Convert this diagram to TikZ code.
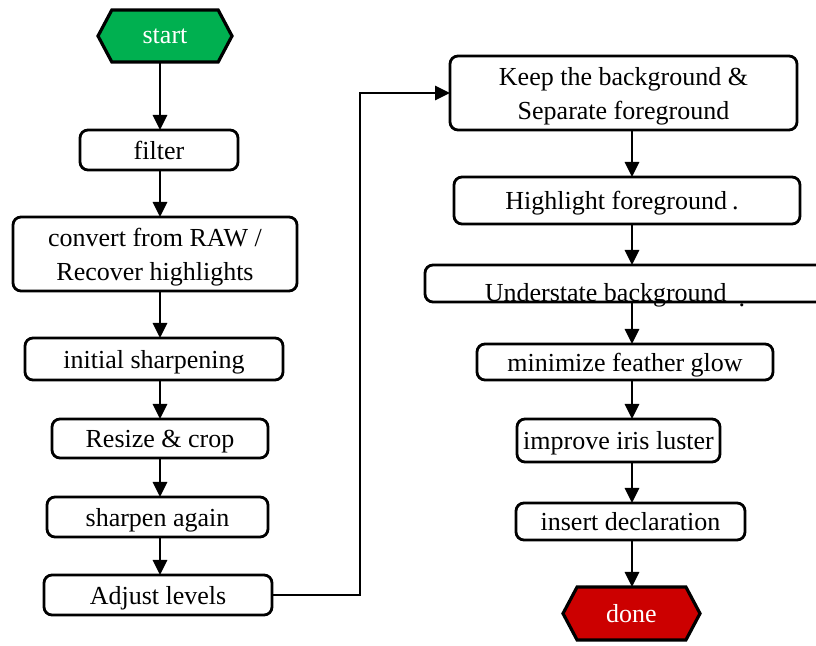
\documentclass[tikz,border=0pt]{standalone}
\usepackage{fontspec}
\setmainfont{Liberation Serif}
\usepackage{tikz}
\usetikzlibrary{shapes.symbols, arrows.meta, positioning}
\definecolor{startgreen}{RGB}{0,176,80}
\definecolor{donered}{RGB}{204,0,0}

\begin{document}
\begin{tikzpicture}[
  x=1pt, y=1pt,
  font=\fontsize{26}{34}\selectfont,
  box/.style = {
    rectangle, rounded corners=8pt,
    draw=black, line width=2.8pt, fill=white,
    align=center, inner sep=0pt, outer sep=0pt, text depth=0pt
  },
  term/.style = {
    signal, signal to=east and west, signal pointer angle=124,
    draw=black, line width=3.2pt, text=white, inner sep=0pt, outer sep=0pt,
    minimum width=134pt, minimum height=52pt
  },
  arr/.style = {-{Triangle[length=15pt,width=14pt]}, line width=2.7pt, black}
]
\useasboundingbox (0,0) rectangle (816,645);

%% ---- left column ----
\node[term, fill=startgreen] (start) at (165,609) {start};
\node[box, below=68pt of start, xshift=-6pt, minimum width=158pt, minimum height=40pt] (filter) {filter};
\node[box, below=47pt of filter, xshift=-4pt, minimum width=284pt, minimum height=74pt] (convert) {convert from RAW /\\Recover highlights};
\node[box, below=47pt of convert, xshift=-1pt, minimum width=258pt, minimum height=42pt] (initial) {initial sharpening};
\node[box, below=39pt of initial, xshift=6pt, minimum width=216pt, minimum height=39pt] (resize) {Resize \& crop};
\node[box, below=39pt of resize, xshift=-2.5pt, minimum width=221pt, minimum height=40pt] (sharpen) {sharpen again};
\node[box, below=38pt of sharpen, xshift=0.5pt, minimum width=228pt, minimum height=40pt] (adjust) {Adjust levels};

%% ---- right column ----
\node[box, minimum width=347pt, minimum height=74pt] (keep) at (623.5,552) {Keep the background \&\\Separate foreground};
\node[box, below=47pt of keep, xshift=3.5pt, minimum width=346pt, minimum height=47pt] (highlight) {Highlight foreground\hspace{5pt}.\hspace*{10pt}};
\node[box, below=41pt of highlight, xshift=3pt, minimum width=410pt, minimum height=37pt] (understate)
  {\raisebox{-18pt}[0pt][0pt]{Understate background\hspace{12pt}\raisebox{-5pt}{.}}\hspace*{30pt}};
\node[box, below=42pt of understate, xshift=-5pt, minimum width=296pt, minimum height=36pt] (minimize) {minimize feather glow};
\node[box, below=39pt of minimize, xshift=-6.5pt, minimum width=203pt, minimum height=43pt] (improve) {improve iris luster};
\node[box, below=41pt of improve, xshift=12pt, minimum width=229pt, minimum height=37pt] (insert) {insert declaration};
\node[term, fill=donered, below=47pt of insert, xshift=1pt, minimum width=137pt, minimum height=53pt] (done) {done};

%% ---- connectors ----
\coordinate (lcol) at (160,0);
\coordinate (rcol) at (632,0);
\draw[arr] (lcol |- start.south) -- (lcol |- filter.north);
\draw[arr] (lcol |- filter.south) -- (lcol |- convert.north);
\draw[arr] (lcol |- convert.south) -- (lcol |- initial.north);
\draw[arr] (lcol |- initial.south) -- (lcol |- resize.north);
\draw[arr] (lcol |- resize.south) -- (lcol |- sharpen.north);
\draw[arr] (lcol |- sharpen.south) -- (lcol |- adjust.north);

\draw[arr] (adjust.east) -- ++(88pt,0) |- (keep.west);

\draw[arr] (rcol |- keep.south) -- (rcol |- highlight.north);
\draw[arr] (rcol |- highlight.south) -- (rcol |- understate.north);
\draw[arr] (rcol |- understate.south) -- (rcol |- minimize.north);
\draw[arr] (rcol |- minimize.south) -- (rcol |- improve.north);
\draw[arr] (rcol |- improve.south) -- (rcol |- insert.north);
\draw[arr] (rcol |- insert.south) -- (rcol |- done.north);

\end{tikzpicture}
\end{document}
